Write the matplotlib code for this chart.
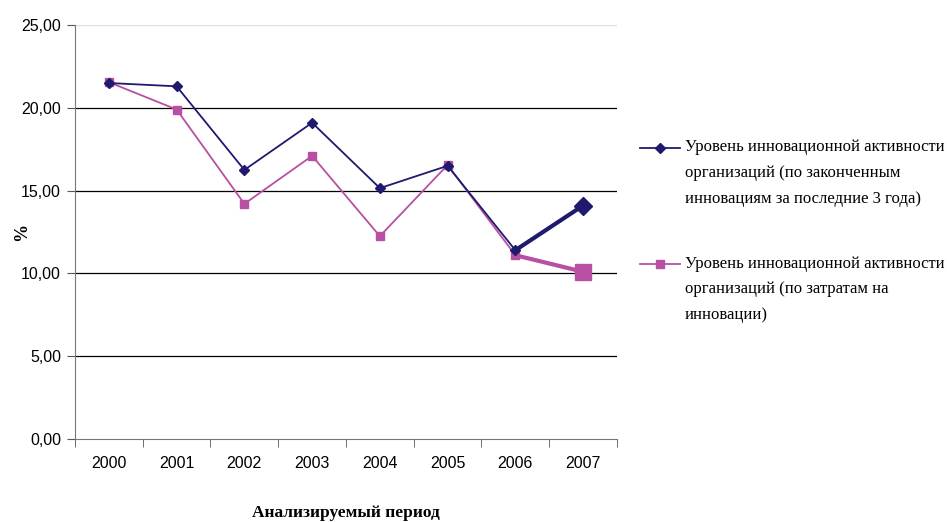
import matplotlib
matplotlib.use('Agg')
import matplotlib.pyplot as plt
from matplotlib.lines import Line2D
from matplotlib.ticker import FuncFormatter, FixedLocator

# годы и значения, %
years = ['2000', '2001', '2002', '2003', '2004', '2005', '2006', '2007']
completed = [21.5, 21.3, 16.25, 19.1, 15.15, 16.5, 11.4, 14.1]
costs = [21.55, 19.9, 14.2, 17.1, 12.25, 16.55, 11.1, 10.1]

label1 = 'Уровень инновационной активности\nорганизаций (по законченным\nинновациям за последние 3 года)'
label2 = 'Уровень инновационной активности\nорганизаций (по затратам на\nинновации)'

navy = '#1f1a6e'
pink = '#b84fa3'

fig = plt.figure(figsize=(9.47, 5.22), dpi=100)
ax = fig.add_axes([0.0792, 0.159, 0.5723, 0.793])

x = list(range(len(years)))
# основная часть линий
ax.plot(x[:-1], completed[:-1], color=navy, lw=1.3, marker='D', ms=5.5, zorder=3)
ax.plot(x[:-1], costs[:-1], color=pink, lw=1.3, marker='s', ms=6, zorder=2)
# последний отрезок (выделен)
ax.plot(x[-2:], completed[-2:], color=navy, lw=3, zorder=3)
ax.plot(x[-1:], completed[-1:], color=navy, marker='D', ms=9, ls='none', zorder=3)
ax.plot(x[-2:], costs[-2:], color=pink, lw=3, zorder=2)
ax.plot(x[-1:], costs[-1:], color=pink, marker='s', ms=11, ls='none', zorder=2)

ax.set_xlim(-0.5, len(years) - 0.5)
ax.set_ylim(0, 25)
ax.set_yticks([0, 5, 10, 15, 20, 25])
ax.yaxis.set_major_formatter(FuncFormatter(lambda v, p: ('%.2f' % v).replace('.', ',')))
ax.set_xticks(x)
ax.set_xticklabels(years)
ax.xaxis.set_minor_locator(FixedLocator([i + 0.5 for i in range(-1, len(years))]))
ax.tick_params(axis='x', which='major', length=0, pad=12)
ax.tick_params(axis='x', which='minor', length=6, color='#555555')
ax.tick_params(axis='y', length=6, color='#555555', pad=4)
for t in ax.get_xticklabels() + ax.get_yticklabels():
    t.set_family('Liberation Sans')
    t.set_fontsize(11.5)

for v in [5, 10, 15, 20]:
    ax.axhline(v, color='black', lw=0.9, zorder=1)
ax.axhline(25, color='#dddddd', lw=0.9, zorder=1)

for s in ['top', 'right']:
    ax.spines[s].set_visible(False)
ax.spines['left'].set_color('#777777')
ax.spines['bottom'].set_color('#777777')

ax.set_xlabel('Анализируемый период', family='Liberation Serif', fontweight='bold',
              fontsize=12.5, labelpad=25)
ax.set_ylabel('%', family='Liberation Serif', fontweight='bold', fontsize=13)
ax.yaxis.set_label_coords(-0.083, 0.5)

# легенда вручную
W, H = 947.0, 522.0
for lab, col, mk, ms, ytop in [(label1, navy, 'D', 5.5, 148), (label2, pink, 's', 6, 264)]:
    fig.add_artist(Line2D([640 / W, 680 / W], [1 - ytop / H, 1 - ytop / H], color=col, lw=1.3))
    fig.add_artist(Line2D([660 / W], [1 - ytop / H], color=col, marker=mk, ms=ms))
    fig.text(685 / W, 1 - (ytop - 8.5) / H, lab, family='Liberation Serif', fontsize=12,
             va='top', ha='left', linespacing=1.8)

fig.savefig('out.png', dpi=100)
